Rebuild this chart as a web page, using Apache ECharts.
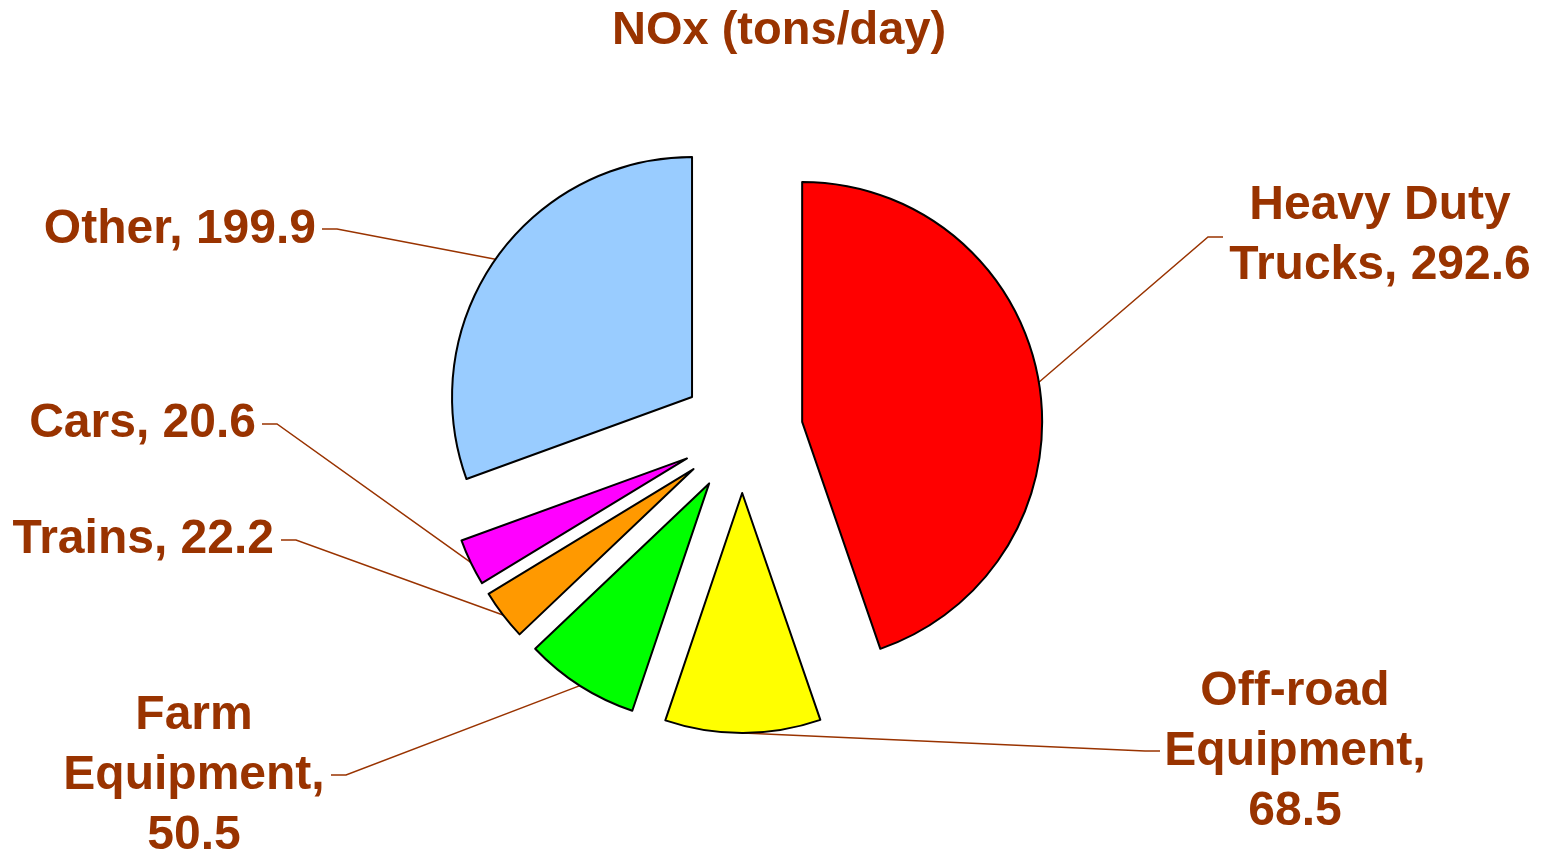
<!DOCTYPE html>
<html>
<head>
<meta charset="utf-8">
<script src="https://cdn.jsdelivr.net/npm/echarts@6/dist/echarts.min.js"></script>
<style>
  html, body { margin: 0; padding: 0; background: #fff; }
  #chart { width: 1542px; height: 859px; }
</style>
</head>
<body>
<div id="chart"></div>
<script>
// data
const categories = ['Heavy Duty Trucks', 'Off-road Equipment', 'Farm Equipment', 'Trains', 'Cars', 'Other'];
const values = [292.6, 68.5, 50.5, 22.2, 20.6, 199.9];
const colors = ['#FF0000', '#FFFF00', '#00FF00', '#FF9900', '#FF00FF', '#99CCFF'];

// where the category name wraps
const wrapAfter = {
  'Heavy Duty Trucks': 'Heavy Duty\nTrucks, ',
  'Off-road Equipment': 'Off-road\nEquipment,\n',
  'Farm Equipment': 'Farm\nEquipment,\n'
};

// label placement (layout only)
const labelPos = [
  { x: 1380, y: 236, align: 'center', elbow: [1208, 237], end: [1223, 237] },
  { x: 1295, y: 752, align: 'center', elbow: [1145, 751], end: [1160, 751] },
  { x: 194, y: 776, align: 'center', elbow: [346, 775], end: [331, 775] },
  { x: 274, y: 540, align: 'right', elbow: [296, 540], end: [281, 540] },
  { x: 256, y: 424, align: 'right', elbow: [277, 424], end: [262, 424] },
  { x: 316, y: 230, align: 'right', elbow: [337, 229], end: [322, 229] }
];

const CX = 742, CY = 432, R = 240, OFFSET = 61;
const brown = '#993300';
const font = '"Liberation Sans", Arial, sans-serif';

const total = values.reduce((a, b) => a + b, 0);
// mid angle (radians) of each slice, clockwise from 12 o'clock
const midAngles = [];
let acc = 0;
values.forEach(v => {
  midAngles.push(Math.PI / 2 - (acc + v / 2) / total * Math.PI * 2);
  acc += v;
});

// one pie per slice, each pulled out along its own mid angle
const series = categories.map((name, i) => {
  const cx = CX + OFFSET * Math.cos(midAngles[i]);
  const cy = CY - OFFSET * Math.sin(midAngles[i]);
  return {
    type: 'pie',
    center: [cx, cy],
    radius: R,
    startAngle: 90,
    clockwise: true,
    avoidLabelOverlap: false,
    emphasis: { disabled: true },
    label: {
      color: brown,
      fontSize: 48,
      fontWeight: 'bold',
      fontFamily: font,
      lineHeight: 60,
      formatter: p => (wrapAfter[p.name] || p.name + ', ') + p.value
    },
    labelLine: { lineStyle: { color: brown, width: 1.5 } },
    labelLayout: function (params) {
      if (params.dataIndex !== i) return {};
      const L = labelPos[i];
      const a = midAngles[i];
      const start = [cx + R * Math.cos(a), cy - R * Math.sin(a)];
      return {
        x: L.x,
        y: L.y,
        align: L.align,
        verticalAlign: 'middle',
        labelLinePoints: [start, L.elbow, L.end]
      };
    },
    data: categories.map((c, j) => ({
      name: c,
      value: values[j],
      itemStyle: j === i
        ? { color: colors[j], borderColor: '#000', borderWidth: 2 }
        : { color: 'rgba(0,0,0,0)', borderWidth: 0 },
      label: { show: j === i },
      labelLine: { show: j === i }
    }))
  };
});

let myChart = echarts.init(document.getElementById('chart'));
myChart.setOption({
  animation: false,
  title: {
    text: 'NOx (tons/day)',
    left: 607,
    top: 3,
    textStyle: { color: brown, fontSize: 47, fontWeight: 'bold', fontFamily: font }
  },
  series: series
});
</script>
</body>
</html>
